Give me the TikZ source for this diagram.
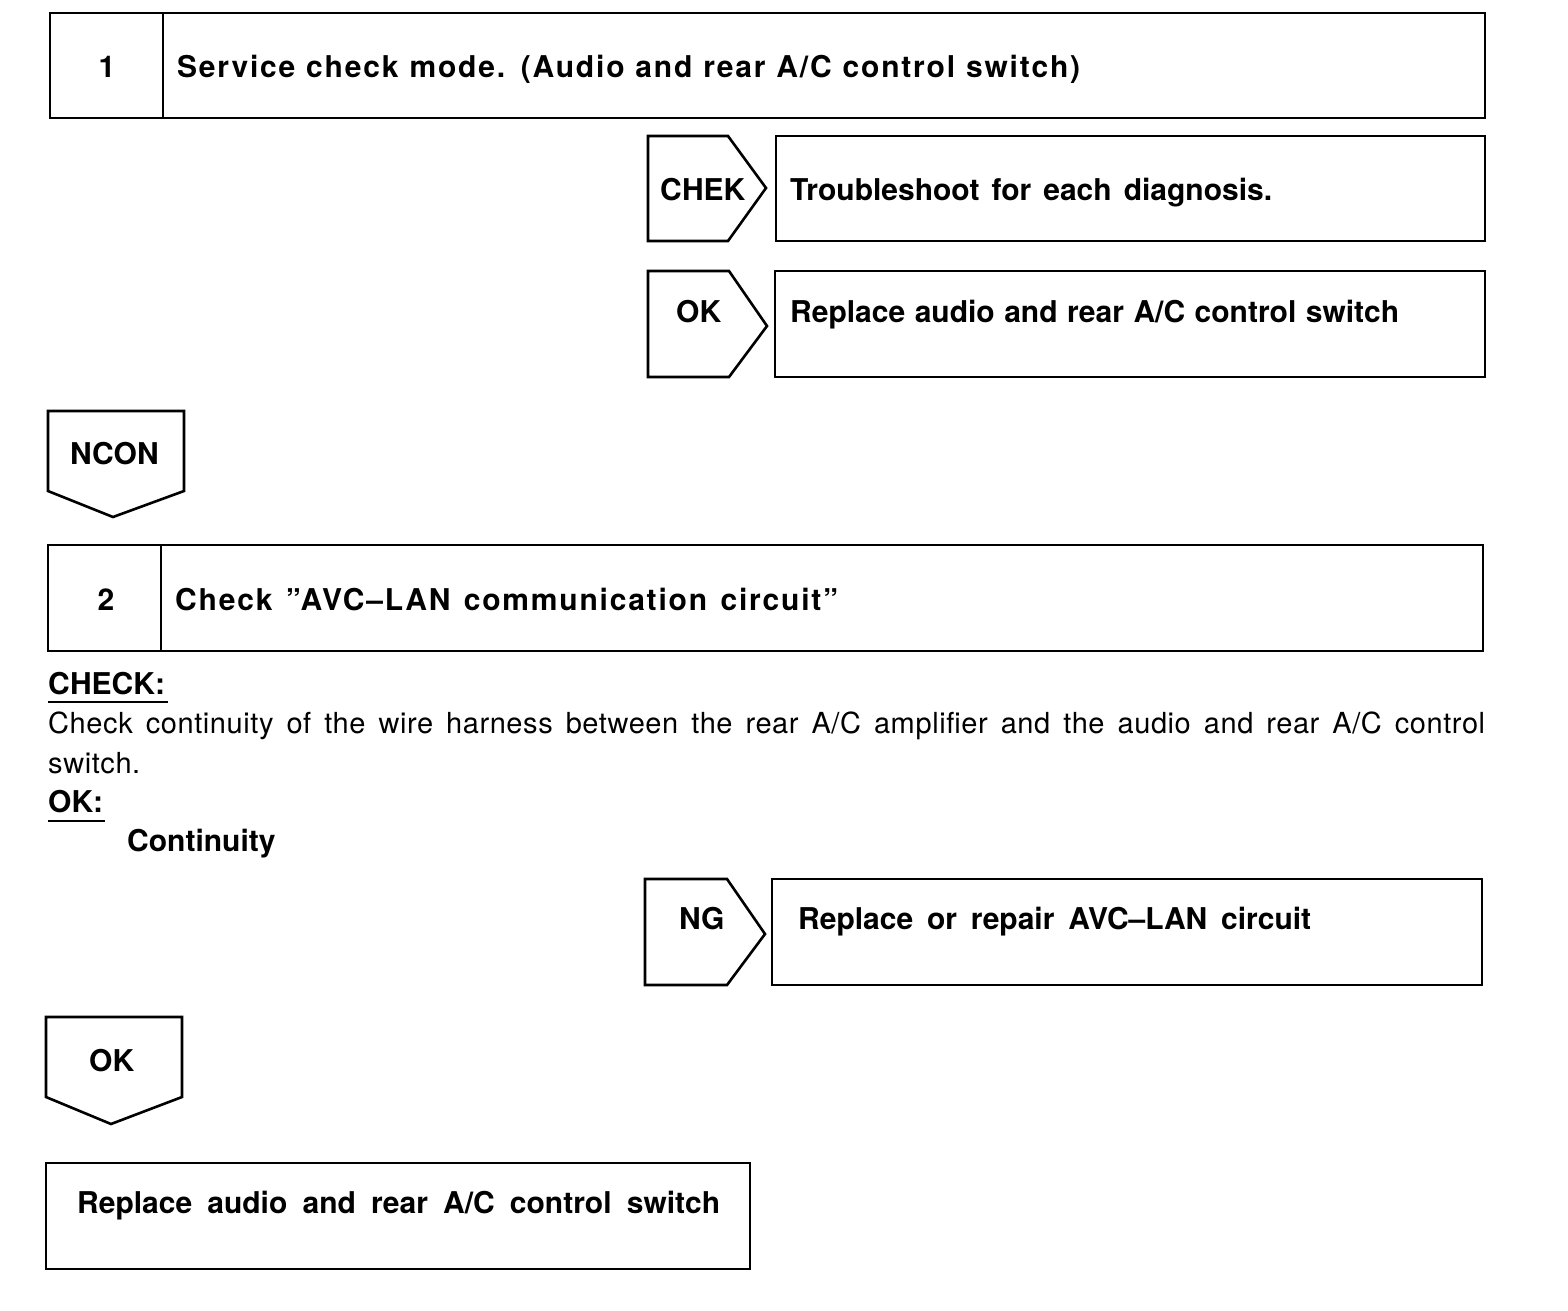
\documentclass[tikz,border=0pt]{standalone}
\usepackage{fontspec}
\setmainfont{TeX Gyre Heros}
\begin{document}
\begin{tikzpicture}[x=1pt,y=-1pt]
\tikzset{
  frame/.style={line width=2.6pt, line join=miter},
  uline/.style={line width=2pt},
  lbl/.style={anchor=base west, inner sep=0pt, font=\fontsize{30}{35}\selectfont\bfseries},
  clbl/.style={anchor=base, inner sep=0pt, font=\fontsize{30}{35}\selectfont\bfseries},
  reg/.style={anchor=base west, inner sep=0pt, font=\fontsize{29}{34}\selectfont\addfontfeature{LetterSpace=2}},
}
\useasboundingbox (0,0) rectangle (1568,1310);
% Step 1
\draw[frame] (50,13) rectangle (1485,118);
\draw[frame] (163,13) -- (163,118);
\node[clbl] (n1) at (107,77) {1};
\node[lbl] (t1) at (177,77) {\addfontfeature{LetterSpace=6}\makebox[903pt][s]{Service check mode. (Audio and rear A/C control switch)}};
% CHEK
\draw[frame] (648,136) -- (728,136) -- (766,188) -- (728,241) -- (648,241) -- cycle;
\draw[frame] (776,136) rectangle (1485,241);
\node[lbl] (chek) at (660,200) {CHEK};
\node[lbl] (tchek) at (790,200) {\makebox[482pt][s]{Troubleshoot for each diagnosis.}};
% OK 1
\draw[frame] (648,271) -- (729,271) -- (767,326) -- (729,377) -- (648,377) -- cycle;
\draw[frame] (775,271) rectangle (1485,377);
\node[lbl] (ok1) at (676,322) {OK};
\node[lbl] (tok1) at (790,322) {\makebox[609pt][s]{Replace audio and rear A/C control switch}};
% NCON
\draw[frame] (48,411) -- (184,411) -- (184,491) -- (113,517) -- (48,491) -- cycle;
\node[lbl] (ncon) at (70,464) {NCON};
% Step 2
\draw[frame] (48,545) rectangle (1483,651);
\draw[frame] (161,545) -- (161,651);
\node[clbl] (n2) at (106,610) {2};
\node[lbl] (t2) at (175,610) {\addfontfeature{LetterSpace=6}\makebox[663pt][s]{Check ”AVC–LAN communication circuit”}};
% CHECK text
\node[lbl] (check) at (48,694) {CHECK:};
\draw[uline] (48,702) -- (168,702);
\node[reg] (p1) at (48,733) {\makebox[1437pt][s]{Check continuity of the wire harness between the rear A/C amplifier and the audio and rear A/C control}};
\node[reg] (p2) at (48,773) {switch.};
\node[lbl] (okc) at (48,812) {OK:};
\draw[uline] (48,821) -- (105,821);
\node[lbl] (cont) at (127,851) {Continuity};
% NG
\draw[frame] (645,879) -- (727,879) -- (765,934) -- (727,985) -- (645,985) -- cycle;
\draw[frame] (772,879) rectangle (1482,985);
\node[lbl] (ng) at (679,929) {NG};
\node[lbl] (tng) at (798,929) {\makebox[513pt][s]{Replace or repair AVC–LAN circuit}};
% OK 2
\draw[frame] (46,1017) -- (182,1017) -- (182,1097) -- (111,1124) -- (46,1097) -- cycle;
\node[lbl] (ok2) at (89,1071) {OK};
% Final
\draw[frame] (46,1163) rectangle (750,1269);
\node[lbl] (tfin) at (77,1213) {\makebox[643pt][s]{Replace audio and rear A/C control switch}};
\end{tikzpicture}
\end{document}
